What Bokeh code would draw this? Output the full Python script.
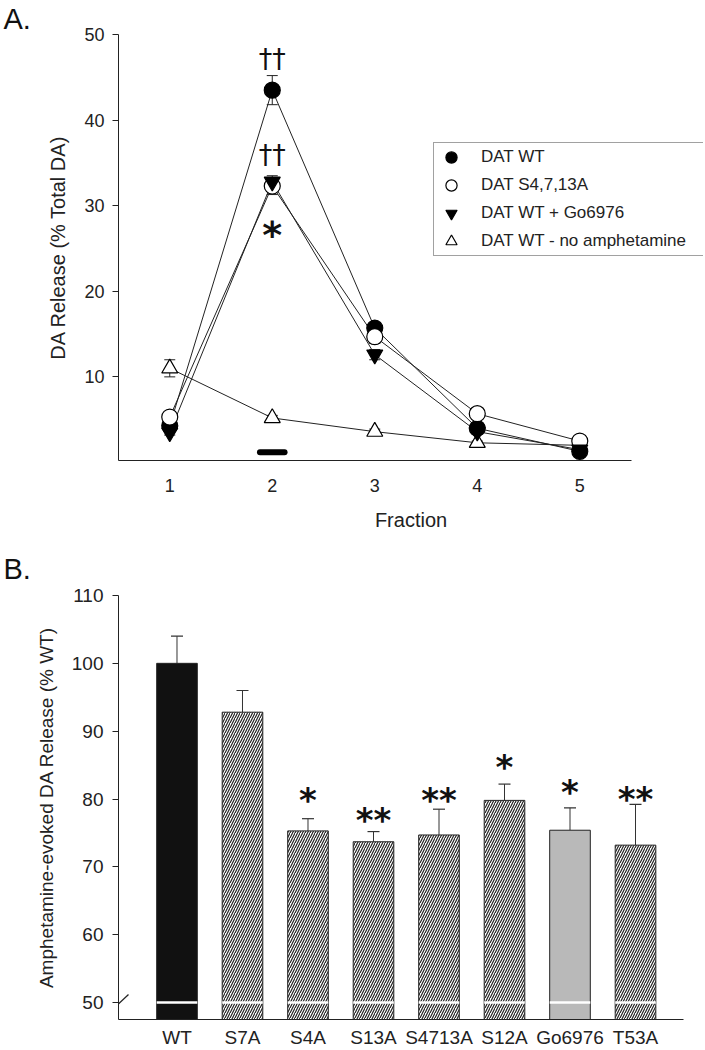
from bokeh.plotting import figure
from bokeh.layouts import column
from bokeh.models import (ColumnDataSource, Whisker, TeeHead, Legend, LegendItem,
                          Range1d, FixedTicker, Arrow)
from bokeh.core.properties import value
from bokeh.embed import file_html
from bokeh.resources import INLINE

# ---------------- Panel A data ----------------
fractions = [1, 2, 3, 4, 5]
dat_wt = [4.3, 43.5, 15.7, 4.0, 1.3]
dat_wt_err = [0.4, 1.7, 0.5, 0.4, 0.2]
dat_s4713a = [5.3, 32.3, 14.7, 5.7, 2.5]
dat_s4713a_err = [0.3, 1.0, 0.8, 0.4, 0.2]
dat_go = [3.5, 32.8, 12.6, 3.6, 1.5]
dat_go_err = [0.3, 0.7, 0.6, 0.3, 0.2]
dat_noamph = [11.0, 5.2, 3.6, 2.3, 2.0]
dat_noamph_err = [1.0, 0.3, 0.3, 0.2, 0.2]
series_names = ["DAT WT", "DAT S4,7,13A", "DAT WT + Go6976", "DAT WT - no amphetamine"]

dagger_x = [2, 2]
dagger_y = [47.2, 36.0]
dagger_text = ["††", "††"]
starA_x = [2]
starA_y = [27.4]
starA_text = ["*"]

amph_x0 = [1.88]
amph_x1 = [2.12]
amph_y = [1.2]

# ---------------- Panel B data ----------------
categories = ["WT", "S7A", "S4A", "S13A", "S4713A", "S12A", "Go6976", "T53A"]
cat_pos = [1, 2, 3, 4, 5, 6, 7, 8]
release = [100.0, 92.8, 75.3, 73.7, 74.7, 79.8, 75.4, 73.2]
release_err = [4.0, 3.2, 1.8, 1.5, 3.8, 2.4, 3.3, 6.0]
stars = ["", "", "*", "**", "**", "*", "*", "**"]
star_level = [0, 0, 80.6, 77.7, 80.6, 85.5, 81.8, 80.8]
break_level = 50

# styles (kept separate from data)
bar_fill = ["#111111", "white", "white", "white", "white", "white", "#b9b9b9", "white"]
bar_hatch = [" ", "/", "/", "/", "/", "/", " ", "/"]

FONT = "Liberation Sans"
W = 705

def style_axes(p, tick_size, label_size):
    for ax in (p.xaxis[0], p.yaxis[0]):
        ax.axis_line_color = "#222222"
        ax.major_tick_line_color = "#222222"
        ax.minor_tick_line_color = None
        ax.major_label_text_font = FONT
        ax.axis_label_text_font = FONT
        ax.major_label_text_color = "#222222"
        ax.axis_label_text_color = "#222222"
        ax.axis_label_text_font_style = "normal"
        ax.major_label_text_font_size = tick_size
        ax.axis_label_text_font_size = label_size

def style_title(p, standoff):
    p.title.text_font = FONT
    p.title.text_font_size = "29px"
    p.title.text_font_style = "normal"
    p.title.text_color = "#111111"
    p.title.align = "left"
    p.title.offset = -115
    p.title.standoff = standoff

# =============== Figure A ===============
pA = figure(width=W, height=533, output_backend="svg", toolbar_location=None,
            title="A.",
            x_range=Range1d(0.5, 6.207), y_range=Range1d(0.23, 50),
            min_border_left=118, min_border_right=2, min_border_top=33, min_border_bottom=72)
pA.outline_line_color = None
pA.grid.visible = False
style_title(pA, 0)
style_axes(pA, "18px", "20px")
pA.xaxis.bounds = (0.5, 5.5)
pA.xaxis.ticker = FixedTicker(ticks=fractions)
pA.xaxis.major_tick_out = 0
pA.xaxis.major_tick_in = 0
pA.xaxis.major_label_standoff = 18
pA.xaxis.axis_label = "Fraction"
pA.xaxis.axis_label_standoff = 14
pA.yaxis.ticker = FixedTicker(ticks=[10, 20, 30, 40, 50])
pA.yaxis.major_tick_out = 6
pA.yaxis.major_tick_in = 0
pA.yaxis.major_label_standoff = 8
pA.yaxis.axis_label = "DA Release (% Total DA)"
pA.yaxis.axis_label_standoff = 12

series = [
    (dat_wt, dat_wt_err, "circle", "black"),
    (dat_s4713a, dat_s4713a_err, "circle", "white"),
    (dat_go, dat_go_err, "inverted_triangle", "black"),
    (dat_noamph, dat_noamph_err, "triangle", "white"),
]

for vals, err, mk, fc in series:
    pA.line(fractions, vals, line_color="#222222", line_width=1)

for vals, err, mk, fc in series:
    src = ColumnDataSource(dict(x=fractions,
                                lo=[v - e for v, e in zip(vals, err)],
                                hi=[v + e for v, e in zip(vals, err)]))
    pA.add_layout(Whisker(source=src, base="x", lower="lo", upper="hi",
                          line_color="#222222", line_width=1,
                          upper_head=TeeHead(size=11, line_color="#222222", line_width=1),
                          lower_head=TeeHead(size=11, line_color="#222222", line_width=1)))

draw_order = [3, 0, 1, 2]
marker_r = {}
for i in draw_order:
    vals, err, mk, fc = series[i]
    marker_r[i] = pA.scatter(fractions, vals, marker=mk, size=16, fill_color=fc,
                             line_color="black", line_width=1.2)

pA.segment(x0=amph_x0, x1=amph_x1, y0=amph_y, y1=amph_y, line_color="black",
           line_width=6, line_cap="round")

pA.text(x=dagger_x, y=dagger_y, text=dagger_text, text_font=value("DejaVu Sans"),
        text_font_size="27px", text_align="center", text_baseline="middle",
        text_color="#111111")
pA.text(x=starA_x, y=starA_y, text=starA_text, text_font=value("DejaVu Sans"),
        text_font_style="bold", text_font_size="38px", text_align="center",
        text_baseline="middle", y_offset=7, text_color="#111111")

legend = Legend(items=[LegendItem(label=series_names[i], renderers=[marker_r[i]]) for i in range(4)],
                location=(315, 204), label_text_font=FONT, label_text_font_size="17px",
                label_text_color="#222222", glyph_width=34, glyph_height=28,
                label_height=20, label_width=222, spacing=0, padding=0, margin=0,
                label_standoff=13, border_line_color="#444444", border_line_width=1,
                background_fill_alpha=1)
pA.add_layout(legend, "center")

# =============== Figure B ===============
yB0 = 47.5
pB = figure(width=W, height=517, output_backend="svg", toolbar_location=None,
            title="B.",
            x_range=Range1d(0.107, 9.038), y_range=Range1d(yB0, 110),
            min_border_left=118, min_border_right=2, min_border_top=62, min_border_bottom=28)
pB.outline_line_color = None
pB.grid.visible = False
style_title(pB, 22)
style_axes(pB, "19px", "19px")
pB.xaxis.bounds = (0.107, 8.73)
pB.xaxis.ticker = FixedTicker(ticks=cat_pos)
pB.xaxis.major_label_overrides = {p: c for p, c in zip(cat_pos, categories)}
pB.xaxis.major_tick_out = 0
pB.xaxis.major_tick_in = 0
pB.xaxis.major_label_standoff = 7
pB.yaxis.ticker = FixedTicker(ticks=[50, 60, 70, 80, 90, 100, 110])
pB.yaxis.major_tick_out = 6
pB.yaxis.major_tick_in = 0
pB.yaxis.major_label_standoff = 9
pB.yaxis.axis_label = "Amphetamine-evoked DA Release (% WT)"
pB.yaxis.axis_label_standoff = 12

srcB = ColumnDataSource(dict(x=cat_pos, top=release,
                             hi=[v + e for v, e in zip(release, release_err)],
                             fill=bar_fill, hatch=bar_hatch))
pB.add_layout(Whisker(source=srcB, base="x", lower="top", upper="hi",
                      line_color="#333333", line_width=1, level="underlay",
                      upper_head=TeeHead(size=12, line_color="#333333", line_width=1.2),
                      lower_head=None))
pB.vbar(x="x", top="top", bottom=yB0, width=0.62, source=srcB, fill_color="fill",
        line_color="#222222", line_width=1, hatch_pattern="hatch", hatch_color="#222222",
        hatch_scale=5, hatch_weight=1.2)

pB.segment(x0=[c - 0.31 for c in cat_pos], x1=[c + 0.31 for c in cat_pos],
           y0=[break_level] * 8, y1=[break_level] * 8, line_color="white", line_width=2.5)

sx = [c for c, s in zip(cat_pos, stars) if s]
sy = [v for v, s in zip(star_level, stars) if s]
st = [s for s in stars if s]
pB.text(x=sx, y=sy, text=st, text_font=value("DejaVu Sans"), text_font_style="bold",
        text_font_size="34px", text_align="center", text_baseline="middle",
        y_offset=5, text_color="#111111")

# axis break mark
pB.add_layout(Arrow(start=None, end=None, x_start=-7, y_start=9, x_end=10, y_end=25,
                    start_units="screen", end_units="screen",
                    line_color="#222222", line_width=1.2))

layout = column(pA, pB, spacing=0)
open("out.html", "w").write(file_html(layout, INLINE))
